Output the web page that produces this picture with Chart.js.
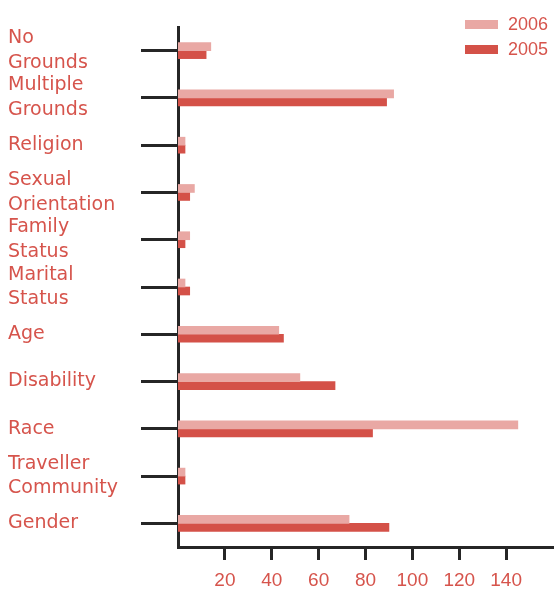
<!DOCTYPE html>
<html lang="en">
<head>
    <meta charset="UTF-8">
    <title>Complaints by ground, 2005 and 2006</title>
    <style>
        html, body { margin: 0; padding: 0; background: #fff; }
        #wrap { width: 558px; height: 589px; }
    </style>
</head>
<body>
    <div id="wrap"><canvas id="myChart" width="558" height="589"></canvas></div>

    <script src="https://cdn.jsdelivr.net/npm/chart.js@4.4.1/dist/chart.umd.min.js"></script>
    <script>
        // data
        var categories = [
            ['No', 'Grounds'],
            ['Multiple', 'Grounds'],
            'Religion',
            ['Sexual', 'Orientation'],
            ['Family', 'Status'],
            ['Marital', 'Status'],
            'Age',
            'Disability',
            'Race',
            ['Traveller', 'Community'],
            'Gender'
        ];
        var values2006 = [14, 92, 3, 7, 5, 3, 43, 52, 145, 3, 73];
        var values2005 = [12, 89, 3, 5, 3, 5, 45, 67, 83, 3, 90];
        var xTicks = [20, 40, 60, 80, 100, 120, 140];

        var textRed = '#d6544c';
        var axisColor = '#262626';

        // legend stacked in the top right corner
        var sideLegend = {
            id: 'sideLegend',
            afterDraw: function (chart) {
                var ctx = chart.ctx;
                ctx.save();
                ctx.font = '18px "Liberation Sans", Arial, sans-serif';
                ctx.textBaseline = 'middle';
                ctx.textAlign = 'left';
                chart.data.datasets.forEach(function (ds, i) {
                    var y = 24.5 + i * 25;
                    ctx.fillStyle = ds.backgroundColor;
                    ctx.fillRect(465, y - 4.5, 33, 9);
                    ctx.fillStyle = textRed;
                    ctx.fillText(ds.label, 508, y + 1);
                });
                ctx.restore();
            }
        };

        var ctx = document.getElementById('myChart').getContext('2d');
        var myChart = new Chart(ctx, {
            type: 'bar',
            data: {
                labels: categories,
                datasets: [
                    { label: '2006', data: values2006, backgroundColor: '#e9a8a4' },
                    { label: '2005', data: values2005, backgroundColor: '#d45148' }
                ]
            },
            options: {
                indexAxis: 'y',
                responsive: false,
                animation: false,
                barThickness: 8,
                layout: { padding: { left: 8, top: 27, right: 5, bottom: 0 } },
                plugins: {
                    legend: { display: false },
                    tooltip: { enabled: false }
                },
                scales: {
                    x: {
                        min: 0,
                        max: 160,
                        afterBuildTicks: function (scale) {
                            scale.ticks = xTicks.map(function (v) { return { value: v }; });
                        },
                        afterFit: function (scale) { scale.height = 42; },
                        border: { color: axisColor, width: 3 },
                        grid: {
                            drawOnChartArea: false,
                            tickLength: 13,
                            tickWidth: 3,
                            tickColor: axisColor
                        },
                        ticks: {
                            padding: 9,
                            color: textRed,
                            font: { family: '"Liberation Sans", Arial, sans-serif', size: 19 }
                        }
                    },
                    y: {
                        afterFit: function (scale) { scale.width = 170; },
                        border: { color: axisColor, width: 3 },
                        grid: {
                            offset: false,
                            drawOnChartArea: false,
                            tickLength: 37,
                            tickWidth: 3,
                            tickColor: axisColor
                        },
                        ticks: {
                            autoSkip: false,
                            crossAlign: 'far',
                            color: textRed,
                            font: { family: '"DejaVu Sans", sans-serif', size: 19, lineHeight: 1.3 }
                        }
                    }
                }
            },
            plugins: [sideLegend]
        });
    </script>
</body>
</html>
